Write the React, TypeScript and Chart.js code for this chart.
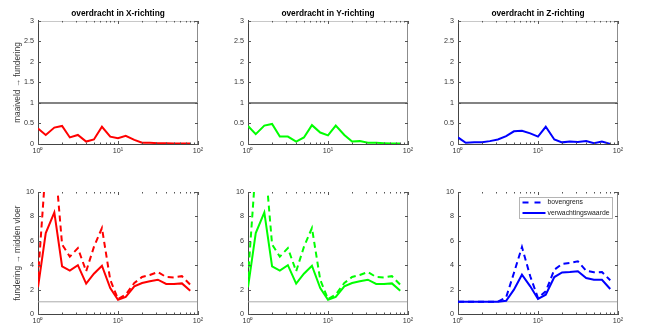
import React, { useEffect, useRef } from 'react';
import { Chart, registerables } from 'chart.js';

Chart.register(...registerables);

const FONT = "'Liberation Sans', Arial, Helvetica, sans-serif";

// third-octave centre frequencies (Hz)
const freqs = [1, 1.25, 1.6, 2, 2.5, 3.15, 4, 5, 6.3, 8, 10, 12.5, 16, 20, 25, 31.5, 40, 50, 63, 80];

// maaiveld -> fundering
const topX = [0.38, 0.22, 0.40, 0.44, 0.16, 0.22, 0.06, 0.11, 0.42, 0.18, 0.14, 0.20, 0.10, 0.03, 0.03, 0.02, 0.02, 0.01, 0.01, 0.01];
const topY = [0.44, 0.24, 0.45, 0.49, 0.18, 0.18, 0.06, 0.16, 0.46, 0.28, 0.21, 0.45, 0.22, 0.06, 0.07, 0.03, 0.03, 0.02, 0.01, 0.01];
const topZ = [0.16, 0.03, 0.04, 0.04, 0.07, 0.11, 0.19, 0.31, 0.32, 0.26, 0.18, 0.42, 0.11, 0.04, 0.06, 0.05, 0.07, 0.02, 0.06, 0.0];

// fundering -> midden vloer
const bottomXUpper = [3.0, 12.1, 13.2, 5.7, 4.7, 5.4, 3.5, 5.5, 7.05, 2.8, 1.23, 1.6, 2.54, 3.03, 3.2, 3.44, 3.03, 3.0, 3.1, 2.4];
const bottomXExpected = [2.19, 6.64, 8.33, 3.9, 3.55, 4.0, 2.49, 3.3, 3.96, 2.13, 1.17, 1.4, 2.27, 2.54, 2.68, 2.81, 2.46, 2.46, 2.51, 1.91];
const bottomYUpper = [3.0, 12.1, 13.2, 5.7, 4.7, 5.4, 3.5, 5.5, 7.05, 2.8, 1.23, 1.6, 2.54, 3.03, 3.2, 3.44, 3.03, 3.0, 3.1, 2.4];
const bottomYExpected = [2.19, 6.64, 8.33, 3.9, 3.55, 4.0, 2.49, 3.3, 3.96, 2.13, 1.17, 1.4, 2.27, 2.54, 2.68, 2.81, 2.46, 2.46, 2.51, 1.91];
const bottomZUpper = [1, 1, 1, 1, 1, 1, 1.37, 3.36, 5.49, 3.09, 1.31, 1.86, 3.63, 4.1, 4.18, 4.32, 3.55, 3.42, 3.44, 2.76];
const bottomZExpected = [1, 1, 1, 1, 1, 1, 1.09, 2.0, 3.22, 2.27, 1.23, 1.58, 3.03, 3.41, 3.44, 3.5, 2.95, 2.81, 2.81, 2.05];

const titles = ['overdracht in X-richting', 'overdracht in Y-richting', 'overdracht in Z-richting'];
const yLabels = ['maaiveld \u2192 fundering', 'fundering \u2192 midden vloer'];
const legendLabels = ['bovengrens', 'verwachtingswaarde'];
const topYTicks = [0, 0.5, 1, 1.5, 2, 2.5, 3];
const bottomYTicks = [0, 2, 4, 6, 8, 10];
const xMajorTicks = [1, 10, 100];
const xTickLabels = ['10\u2070', '10\u00B9', '10\u00B2'];
const referenceX = [1, 100];
const referenceLevel = 1;
const colors = ['#ff0000', '#00ff00', '#0000ff'];

type Series = { label: string; data: number[]; color: string; dashed: boolean };
type PanelSpec = {
  key: string;
  left: number;
  top: number;
  height: number;
  title?: string;
  yLabel?: string;
  yMax: number;
  yTicks: number[];
  series: Series[];
  refColor: string;
  refWidth: number;
  padTop: number;
  xAxisHeight: number;
  topBorder: boolean;
  legend: boolean;
};

function makeFramePlugin(spec: PanelSpec) {
  return {
    id: 'matlabFrame',
    afterDraw(chart: any) {
      const { ctx, chartArea: ca, scales } = chart;
      const xs = scales.x;
      const ys = scales.y;
      const line = (x1: number, y1: number, x2: number, y2: number) => {
        ctx.beginPath();
        ctx.moveTo(x1, y1);
        ctx.lineTo(x2, y2);
        ctx.stroke();
      };
      ctx.save();
      ctx.lineWidth = 1;
      ctx.setLineDash([]);
      const rx = Math.round(ca.right) - 0.5;
      ctx.strokeStyle = '#8c8c8c';
      line(rx, ca.top, rx, ca.bottom);
      if (spec.topBorder) {
        ctx.strokeStyle = '#c8c8c8';
        const ty = Math.round(ca.top) + 0.5;
        line(ca.left, ty, ca.right, ty);
      }
      // x ticks (inside), major + minor
      ctx.strokeStyle = '#555';
      const decades = xMajorTicks.slice(0, -1);
      const tickVals: { v: number; major: boolean }[] = [];
      decades.forEach((d) => {
        for (let m = 1; m <= 9; m++) tickVals.push({ v: d * m, major: m === 1 });
      });
      tickVals.push({ v: xMajorTicks[xMajorTicks.length - 1], major: true });
      tickVals.forEach(({ v, major }) => {
        const px = Math.round(xs.getPixelForValue(v)) + 0.5;
        const len = major ? 3 : 1.5;
        line(px, ca.bottom, px, ca.bottom - len);
        line(px, ca.top, px, ca.top + len);
      });
      // y ticks (inside) on left and right
      spec.yTicks.forEach((v) => {
        const py = Math.round(ys.getPixelForValue(v)) + 0.5;
        line(ca.left, py, ca.left + 3, py);
        line(ca.right, py, ca.right - 3, py);
      });
      if (spec.legend) {
        const w = 93;
        const h = 21;
        const bx = Math.round(ca.right - 6 - w) + 0.5;
        const by = Math.round(ca.top + 5) + 0.5;
        ctx.fillStyle = '#ffffff';
        ctx.fillRect(bx, by, w, h);
        ctx.strokeStyle = '#b4b4b4';
        ctx.lineWidth = 1;
        ctx.strokeRect(bx, by, w, h);
        const items = chart.data.datasets.slice(0, 2);
        items.forEach((ds: any, i: number) => {
          const cy = by + 5 + i * 10.5;
          ctx.strokeStyle = ds.borderColor;
          ctx.lineWidth = 2;
          ctx.setLineDash(ds.borderDash && ds.borderDash.length ? [6, 6] : []);
          line(bx + 3, cy, bx + 26, cy);
          ctx.setLineDash([]);
          ctx.fillStyle = '#222';
          ctx.font = `6.8px ${FONT}`;
          ctx.textBaseline = 'middle';
          ctx.textAlign = 'left';
          ctx.fillText(ds.label, bx + 28, cy);
        });
      }
      ctx.restore();
    },
  };
}

function Panel({ spec }: { spec: PanelSpec }) {
  const ref = useRef<HTMLCanvasElement | null>(null);
  useEffect(() => {
    if (!ref.current) return;
    const datasets: any[] = spec.series.map((s) => ({
      label: s.label,
      data: freqs.map((f, i) => ({ x: f, y: s.data[i] })),
      borderColor: s.color,
      backgroundColor: s.color,
      borderWidth: 2,
      borderDash: s.dashed ? [6, 4] : [],
      pointRadius: 0,
      tension: 0,
      fill: false,
    }));
    datasets.push({
      label: 'referentie',
      data: referenceX.map((x) => ({ x, y: referenceLevel })),
      borderColor: spec.refColor,
      borderWidth: spec.refWidth,
      pointRadius: 0,
      fill: false,
    });
    const tickFont = { family: FONT, size: 7.2 };
    const chart = new Chart(ref.current, {
      type: 'line',
      data: { datasets },
      plugins: [makeFramePlugin(spec)],
      options: {
        responsive: false,
        animation: false,
        devicePixelRatio: 1,
        layout: { padding: { left: 0, right: 12, top: spec.padTop, bottom: 0 } },
        plugins: {
          legend: { display: false },
          tooltip: { enabled: false },
          title: spec.title
            ? {
                display: true,
                text: spec.title,
                fullSize: false,
                color: '#000',
                font: { family: FONT, size: 8.3, weight: 'bold' },
                padding: { top: 9, bottom: 2 },
              }
            : { display: false },
        },
        scales: {
          x: {
            type: 'logarithmic',
            min: 1,
            max: 100,
            afterBuildTicks: (s: any) => {
              s.ticks = xMajorTicks.map((v) => ({ value: v }));
            },
            afterFit: (s: any) => {
              s.height = spec.xAxisHeight;
              s.paddingLeft = 0;
              s.paddingRight = 0;
            },
            ticks: {
              autoSkip: false,
              maxRotation: 0,
              minRotation: 0,
              padding: 3,
              color: '#333',
              font: tickFont,
              callback: (v: any) => {
                const i = xMajorTicks.indexOf(Number(v));
                return i >= 0 ? xTickLabels[i] : '';
              },
            },
            grid: { display: false, drawTicks: false },
            border: { display: true, color: '#444', width: 1 },
          },
          y: {
            type: 'linear',
            min: 0,
            max: spec.yMax,
            afterBuildTicks: (s: any) => {
              s.ticks = spec.yTicks.map((v) => ({ value: v }));
            },
            afterFit: (s: any) => {
              s.width = 38;
            },
            ticks: {
              padding: 4,
              color: '#333',
              font: tickFont,
              callback: (v: any) => String(v),
            },
            grid: { display: false, drawTicks: false },
            border: { display: true, color: '#444', width: 1 },
            title: spec.yLabel
              ? {
                  display: true,
                  text: spec.yLabel,
                  color: '#333',
                  font: { family: FONT, size: 8.3 },
                  padding: { top: 12.6, bottom: 0 },
                }
              : { display: false },
          },
        },
      } as any,
    });
    return () => chart.destroy();
  }, [spec]);
  return (
    <div style={{ position: 'absolute', left: spec.left, top: spec.top, width: 210, height: spec.height }}>
      <canvas ref={ref} width={210} height={spec.height} style={{ width: 210, height: spec.height, display: 'block' }} />
    </div>
  );
}

const topData = [topX, topY, topZ];
const bottomData = [
  [bottomXUpper, bottomXExpected],
  [bottomYUpper, bottomYExpected],
  [bottomZUpper, bottomZExpected],
];

const panels: PanelSpec[] = [
  ...[0, 1, 2].map((c) => ({
    key: `top${c}`,
    left: c * 210,
    top: 0,
    height: 161,
    title: titles[c],
    yLabel: c === 0 ? yLabels[0] : undefined,
    yMax: 3,
    yTicks: topYTicks,
    series: [{ label: titles[c], data: topData[c], color: colors[c], dashed: false }],
    refColor: '#5a5a5a',
    refWidth: 1.5,
    padTop: 0,
    xAxisHeight: 17,
    topBorder: true,
    legend: false,
  })),
  ...[0, 1, 2].map((c) => ({
    key: `bottom${c}`,
    left: c * 210,
    top: 161,
    height: 175,
    yLabel: c === 0 ? yLabels[1] : undefined,
    yMax: 10,
    yTicks: bottomYTicks,
    series: [
      { label: legendLabels[0], data: bottomData[c][0], color: colors[c], dashed: true },
      { label: legendLabels[1], data: bottomData[c][1], color: colors[c], dashed: false },
    ],
    refColor: '#aaaaaa',
    refWidth: 1,
    padTop: 31,
    xAxisHeight: 22,
    topBorder: false,
    legend: c === 2,
  })),
];

export default function App() {
  return (
    <div
      style={{
        position: 'fixed',
        left: 0,
        top: 0,
        width: 661,
        height: 323,
        overflow: 'hidden',
        background: '#ffffff',
      }}
    >
      {panels.map((p) => (
        <Panel key={p.key} spec={p} />
      ))}
    </div>
  );
}
